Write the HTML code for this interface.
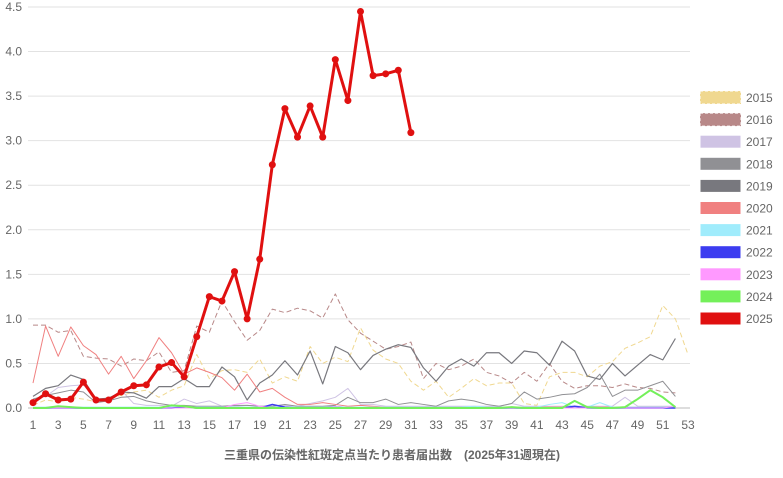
<!DOCTYPE html>
<html><head><meta charset="utf-8">
<style>
body{margin:0;background:#fff;width:783px;height:473px;overflow:hidden;font-family:"Liberation Sans","Noto Sans CJK JP",sans-serif;}
svg text{font-family:"Liberation Sans","Noto Sans CJK JP",sans-serif;}
</style></head>
<body>
<svg id="chart" width="783" height="473" viewBox="0 0 783 473" xmlns="http://www.w3.org/2000/svg"></svg>
<script>
const weeks = Array.from({length:53},(_,i)=>i+1);
const yTicks = [0,0.5,1.0,1.5,2.0,2.5,3.0,3.5,4.0,4.5];
const years = ["2015","2016","2017","2018","2019","2020","2021","2022","2023","2024","2025"];
const s2015 = [0.03,0.09,0.07,0.12,0.10,0.07,0.12,0.14,0.18,0.20,0.12,0.20,0.25,0.60,0.33,0.42,0.43,0.40,0.55,0.28,0.35,0.30,0.69,0.50,0.57,0.52,0.90,0.65,0.55,0.50,0.30,0.20,0.30,0.12,0.22,0.33,0.25,0.28,0.28,0.05,0.03,0.35,0.40,0.40,0.35,0.47,0.52,0.67,0.73,0.80,1.15,1.00,0.60,0.25].slice(0,53);
const s2016 = [0.93,0.93,0.85,0.87,0.58,0.56,0.55,0.47,0.55,0.53,0.63,0.40,0.42,0.92,0.85,1.20,0.97,0.76,0.87,1.11,1.07,1.12,1.09,1.01,1.28,0.99,0.84,0.75,0.66,0.69,0.74,0.33,0.50,0.43,0.47,0.55,0.40,0.36,0.28,0.40,0.30,0.50,0.30,0.22,0.25,0.25,0.23,0.27,0.23,0.22,0.18,0.17];
const s2017 = [0.10,0.13,0.23,0.25,0.26,0.10,0.06,0.20,0.05,0.03,0.03,0.02,0.10,0.05,0.08,0.02,0.02,0.03,0.02,0.02,0.03,0.02,0.05,0.08,0.12,0.22,0.04,0.04,0.02,0.02,0.02,0.02,0.02,0.02,0.02,0.02,0.02,0.02,0.05,0.02,0.02,0.02,0.02,0.02,0.02,0.02,0.02,0.12,0.02,0.02,0.02,0.02];
const s2018 = [0.10,0.14,0.17,0.20,0.18,0.06,0.08,0.12,0.13,0.08,0.05,0.03,0.03,0.02,0.02,0.02,0.03,0.03,0.02,0.02,0.04,0.02,0.02,0.02,0.03,0.12,0.06,0.06,0.10,0.04,0.06,0.04,0.02,0.08,0.10,0.08,0.04,0.02,0.05,0.18,0.10,0.12,0.15,0.16,0.23,0.38,0.13,0.20,0.20,0.25,0.30,0.13];
const s2019 = [0.13,0.22,0.25,0.37,0.32,0.10,0.11,0.18,0.17,0.11,0.24,0.24,0.33,0.24,0.24,0.46,0.35,0.09,0.28,0.37,0.53,0.37,0.64,0.27,0.69,0.62,0.43,0.59,0.66,0.71,0.68,0.45,0.30,0.47,0.55,0.47,0.62,0.62,0.50,0.64,0.62,0.48,0.75,0.64,0.36,0.32,0.50,0.36,0.48,0.60,0.54,0.78];
const s2020 = [0.28,0.92,0.58,0.91,0.70,0.60,0.38,0.58,0.33,0.53,0.79,0.62,0.38,0.45,0.40,0.34,0.20,0.38,0.18,0.22,0.12,0.04,0.04,0.06,0.04,0.02,0.03,0.02,0.01,0.01,0.01,0.01,0.01,0.01,0.01,0.01,0.01,0.01,0.01,0.01,0.01,0.01,0.01,0.01,0.01,0.01,0.01,0.01,0.01,0.01,0.01,0.01];
const s2021 = [0.01,0.01,0.02,0.01,0.01,0.01,0.01,0.01,0.01,0.01,0.01,0.01,0.01,0.01,0.01,0.01,0.01,0.01,0.01,0.01,0.01,0.01,0.01,0.01,0.01,0.01,0.01,0.01,0.01,0.01,0.01,0.01,0.01,0.01,0.01,0.02,0.01,0.01,0.01,0.01,0.01,0.04,0.06,0.01,0.01,0.06,0.01,0.01,0.01,0.01,0.01,0.01];
const s2022 = [0,0,0,0,0,0,0,0,0,0,0,0,0.01,0,0,0,0,0,0,0.04,0.01,0,0,0,0.01,0,0,0,0,0,0,0,0,0,0,0,0,0,0,0,0,0,0,0.02,0,0,0,0,0,0,0,0];
const s2023 = [0,0,0,0,0,0,0,0,0,0,0,0,0,0,0,0,0.04,0.06,0.02,0,0,0,0,0,0.01,0,0,0,0,0,0,0,0,0,0,0,0,0,0,0,0,0,0,0,0,0,0,0,0,0,0,0.02];
const s2024 = [0,0,0.02,0.01,0,0,0,0,0,0,0,0.03,0.02,0,0,0,0,0,0,0,0,0,0,0,0,0,0,0,0,0,0,0,0,0,0,0,0,0,0.01,0,0,0,0,0.08,0.01,0,0,0.01,0.10,0.20,0.12,0.01];
const s2025 = [0.06,0.16,0.09,0.10,0.29,0.09,0.09,0.18,0.25,0.26,0.46,0.51,0.35,0.80,1.25,1.20,1.53,1.00,1.67,2.73,3.36,3.04,3.39,3.04,3.91,3.45,4.45,3.73,3.75,3.79,3.09];
const series = [s2015,s2016,s2017,s2018,s2019,s2020,s2021,s2022,s2023,s2024,s2025];
const colors = ["#f0d890","#b88888","#cfc3e4","#909094","#78787e","#f08080","#a0ecfc","#3c3cf0","#ff99ff","#74f05a","#e01010"];
const dashed = [true,true,false,false,false,false,false,false,false,false,false];
const widths = [1,1,1,1,1.2,1,1,1.5,1,2,3];

const svg = document.getElementById('chart');
const NS = 'http://www.w3.org/2000/svg';
const X0=33, X1=688, Y0=408, Y1=7;
function xs(w){return X0+(w-1)*(X1-X0)/52;}
function ys(v){return Y0-v*(Y0-Y1)/4.5;}
function mk(t,a){const e=document.createElementNS(NS,t);for(const k in a)e.setAttribute(k,a[k]);svg.appendChild(e);return e;}

yTicks.forEach(t=>{
  const g=mk('line',{x1:28,x2:690,y1:ys(t),y2:ys(t),stroke:t===0?'#bbb':'#e2e2e2','stroke-width':1});
  
  
  const l=mk('text',{x:22,y:ys(t)+4,'text-anchor':'end','font-size':12,fill:'#666'});
  l.textContent=t.toFixed(1);
  
  
});
weeks.forEach(w=>{
  if(w%2===1){
    const l=mk('text',{x:xs(w),y:429,'text-anchor':'middle','font-size':12,fill:'#666'});
    l.textContent=w;
    
    
  }
});
series.forEach((s,i)=>{
  const pts=s.map((v,j)=>xs(weeks[j])+','+ys(v)).join(' ');
  const a={points:pts,fill:'none',stroke:colors[i],'stroke-width':widths[i],'stroke-linejoin':'round'};
  if(dashed[i])a['stroke-dasharray']='5,3';
  const p=mk('polyline',a);
  
  
});
s2025.forEach((v,j)=>{
  const c=mk('circle',{cx:xs(weeks[j]),cy:ys(v),r:3.5,fill:colors[10]});
  
  
});
years.forEach((y,i)=>{
  const yy=91+i*22.1;
  const r=mk('rect',{x:700,y:yy,width:41,height:13,fill:colors[i],stroke:'#fff','stroke-width':1});
  if(dashed[i]) r.setAttribute('stroke-dasharray','3,2');
  
  
  const t=mk('text',{x:746,y:yy+11,'font-size':12,fill:'#666'});
  t.textContent=y;
  
  
});
const title=mk('text',{x:392,y:459,'text-anchor':'middle','font-size':12,'font-weight':'bold',fill:'#666'});
title.textContent='三重県の伝染性紅斑定点当たり患者届出数\u3000(2025年31週現在)';


</script>
</body></html>
